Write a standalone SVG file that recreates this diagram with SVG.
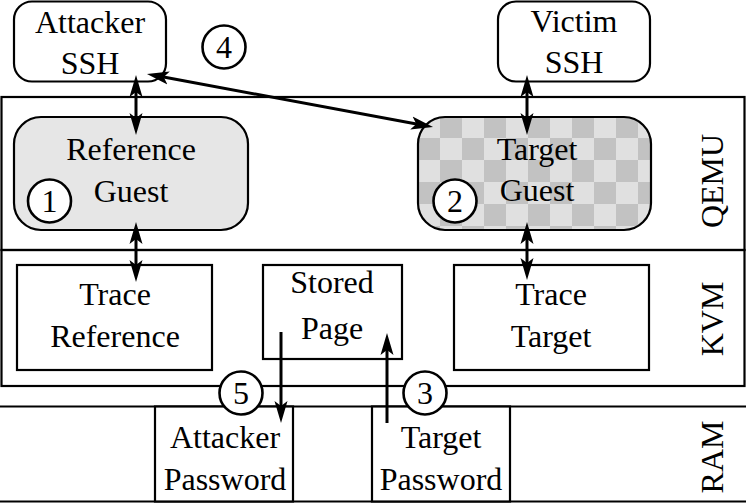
<svg xmlns="http://www.w3.org/2000/svg" width="746" height="503" viewBox="0 0 746 503">
<style>
text{font-family:'Liberation Serif','Times New Roman',Times,'DejaVu Serif',serif;font-size:32px;fill:#000;text-anchor:middle}
.box{fill:#fff;stroke:#000;stroke-width:2.2}
.layer{fill:none;stroke:#000;stroke-width:2.2}
.num{fill:#fff;stroke:#000;stroke-width:2.6}
.arr{fill:none;stroke:#000;stroke-width:3}
.dbl{marker-start:url(#ah);marker-end:url(#ah)}
.one{marker-end:url(#ah)}
</style>
<defs>
<marker id="ah" viewBox="0 -7 22 14" markerWidth="22" markerHeight="14" refX="12" refY="0" markerUnits="userSpaceOnUse" orient="auto-start-reverse">
<path d="M22,0 L0,-6.5 L5,0 L0,6.5 Z" fill="#000"/>
</marker>
<pattern id="chk" x="418" y="116" width="44" height="44" patternUnits="userSpaceOnUse">
<rect width="44" height="44" fill="#e0e0e0"/>
<rect x="22" y="0" width="22" height="22" fill="#c2c2c2"/>
<rect x="0" y="22" width="22" height="22" fill="#c2c2c2"/>
</pattern>
</defs>

<g id="layers">
<rect class="layer" x="1.5" y="97" width="743" height="153"/>
<rect class="layer" x="1.5" y="250" width="743" height="136"/>
<line class="layer" x1="0" y1="406.5" x2="746" y2="406.5"/>
<line class="layer" x1="0" y1="501.5" x2="746" y2="501.5"/>
<text transform="translate(723,181) rotate(-90)">QEMU</text>
<text transform="translate(723,319) rotate(-90)">KVM</text>
<text transform="translate(723,457) rotate(-90)">RAM</text>
</g>

<g id="attacker-ssh">
<rect class="box" x="14" y="1.5" width="152" height="80" rx="18"/>
<text x="90" y="33">Attacker</text>
<text x="90" y="74">SSH</text>
</g>

<g id="victim-ssh">
<rect class="box" x="498" y="1.5" width="152" height="80" rx="18"/>
<text x="574" y="32">Victim</text>
<text x="574" y="73">SSH</text>
</g>

<g id="reference-guest">
<rect x="14" y="117" width="234" height="113" rx="27" fill="#e6e6e6" stroke="#000" stroke-width="2.2"/>
<text x="131" y="160">Reference</text>
<text x="131" y="202">Guest</text>
</g>

<g id="target-guest">
<rect x="418" y="117" width="233" height="113" rx="27" fill="url(#chk)" stroke="#000" stroke-width="2.2"/>
<text x="537" y="160">Target</text>
<text x="537" y="201">Guest</text>
</g>

<g id="trace-reference">
<rect class="box" x="17" y="265" width="195" height="105"/>
<text x="115" y="305">Trace</text>
<text x="115" y="347">Reference</text>
</g>

<g id="stored-page">
<rect class="box" x="263" y="265" width="139" height="94"/>
<text x="332" y="293">Stored</text>
<text x="332" y="339">Page</text>
</g>

<g id="trace-target">
<rect class="box" x="454" y="265" width="195" height="105"/>
<text x="551" y="305">Trace</text>
<text x="551" y="347">Target</text>
</g>

<g id="attacker-password">
<rect class="box" x="155" y="406.5" width="138" height="95"/>
<text x="225" y="448">Attacker</text>
<text x="225" y="490">Password</text>
</g>

<g id="target-password">
<rect class="box" x="372" y="406.5" width="138" height="95"/>
<text x="441" y="448">Target</text>
<text x="441" y="490">Password</text>
</g>

<g id="connectors">
<path class="arr dbl" d="M136,85 L136,125"/>
<path class="arr dbl" d="M136,232 L136,272"/>
<path class="arr dbl" d="M527,85 L527,125"/>
<path class="arr dbl" d="M527,232 L527,270"/>
<path class="arr dbl" d="M156.8,75.8 L423.2,125.2"/>
<path class="arr one" d="M281,332 L281,413"/>
<path class="arr one" d="M387,423 L387,343"/>
</g>

<g id="step-1"><circle class="num" cx="49.5" cy="201" r="21.5"/><text x="49.5" y="212">1</text></g>
<g id="step-2"><circle class="num" cx="455" cy="201" r="21.5"/><text x="455" y="212">2</text></g>
<g id="step-3"><circle class="num" cx="425" cy="393" r="21.5"/><text x="425" y="404">3</text></g>
<g id="step-4"><circle class="num" cx="224" cy="47" r="21.5"/><text x="224" y="58">4</text></g>
<g id="step-5"><circle class="num" cx="241" cy="393" r="21.5"/><text x="241" y="404">5</text></g>
</svg>
